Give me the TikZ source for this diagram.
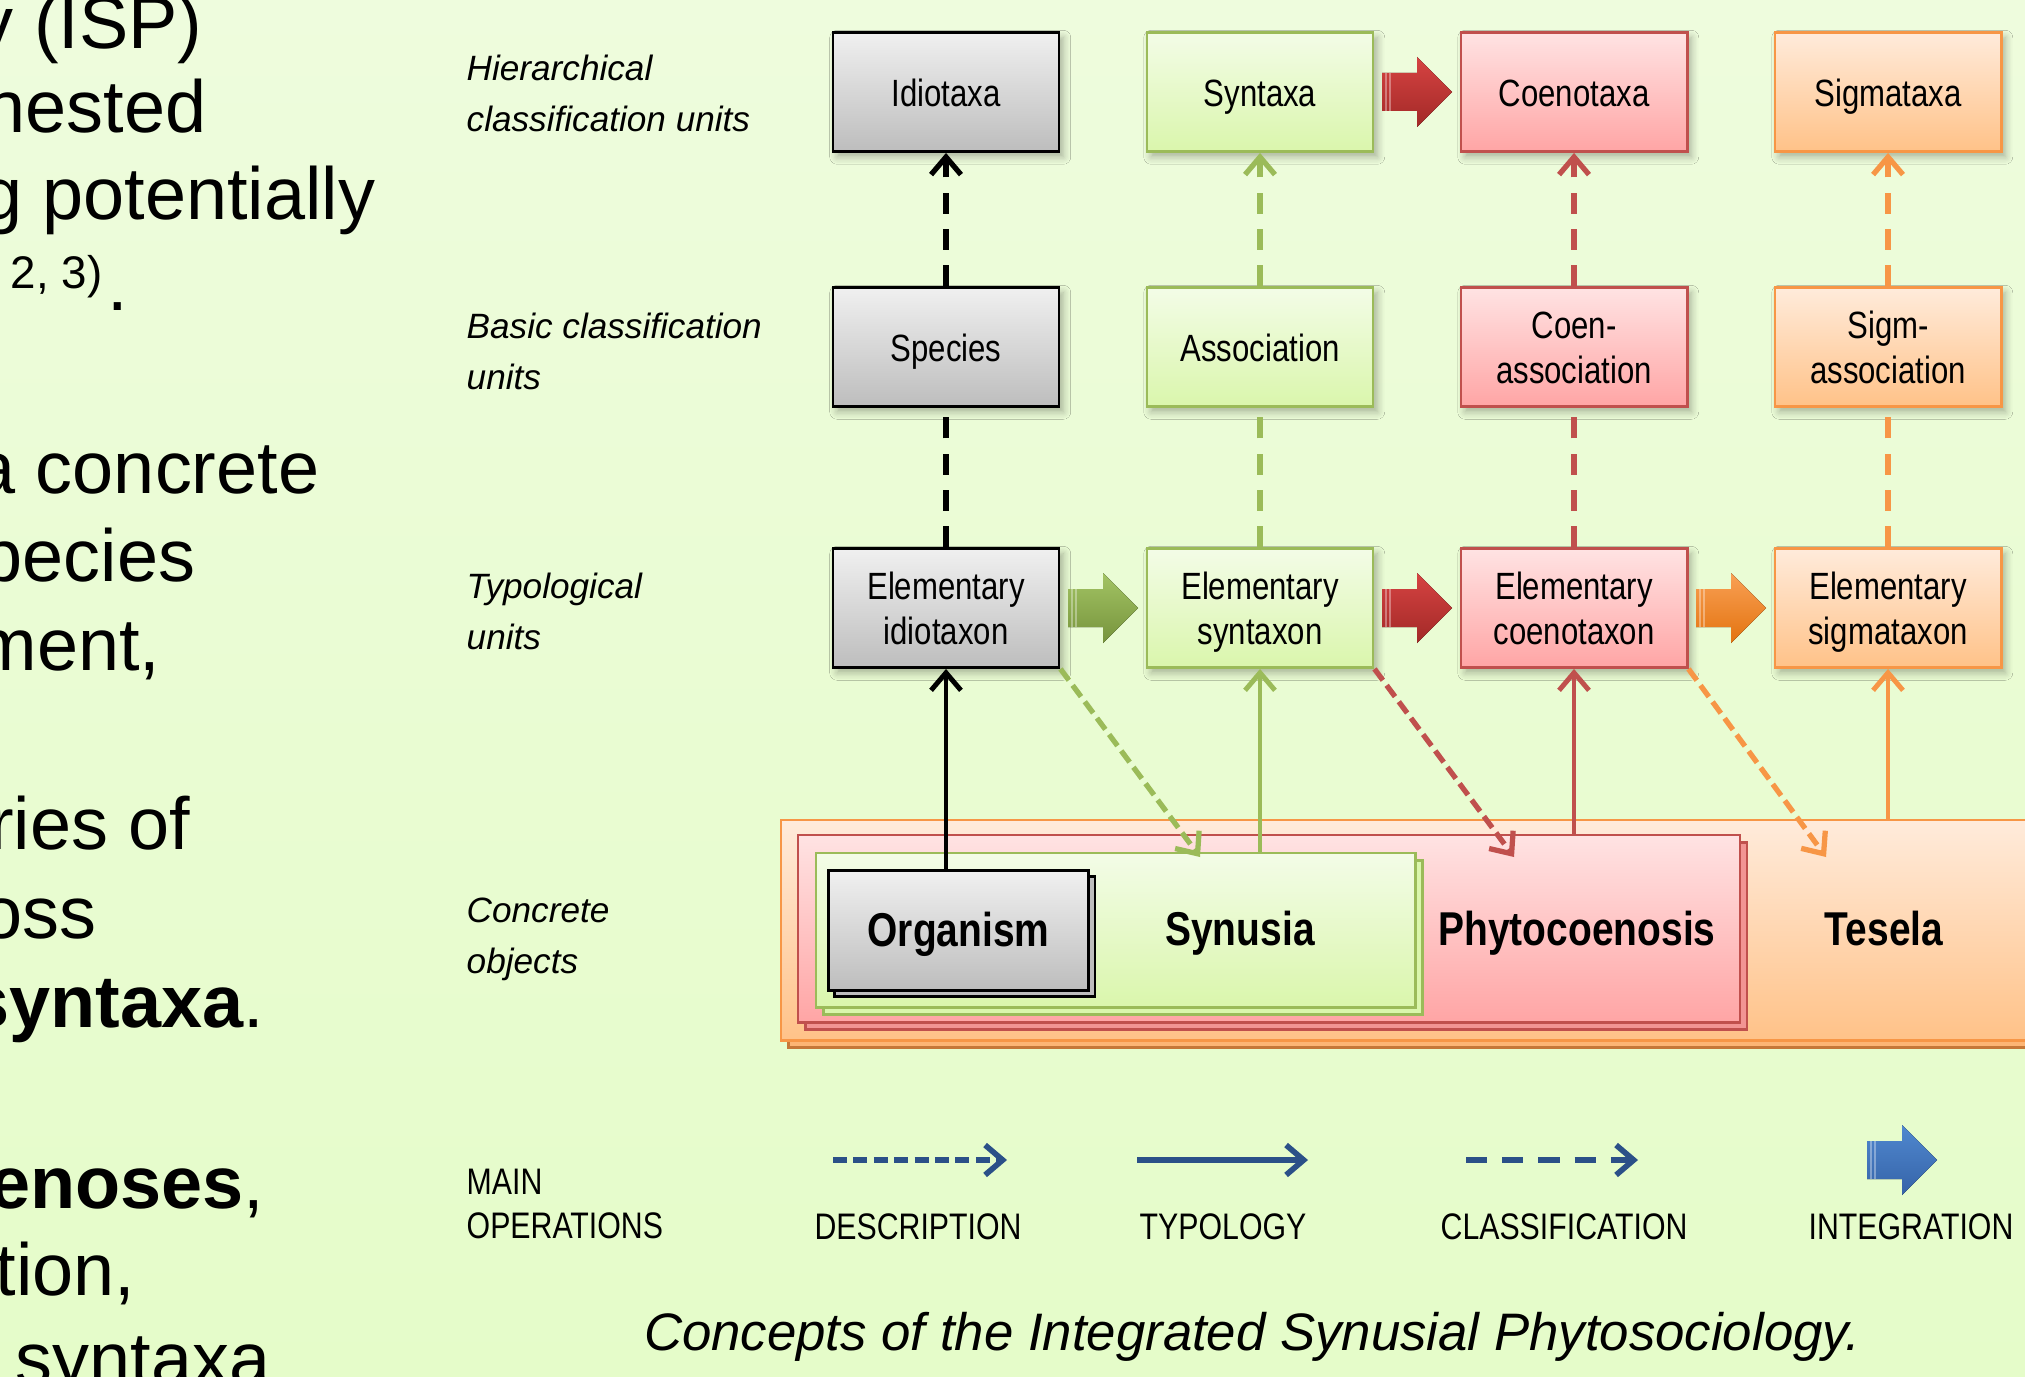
\documentclass[tikz,border=0pt]{standalone}
\usepackage{fontspec}
\setmainfont{Liberation Sans}
\newfontfamily\narrowfont[FakeStretch=0.82]{Liberation Sans}
\usetikzlibrary{calc, arrows.meta, shadows, shadows.blur}

\definecolor{bgtop}{HTML}{EEFCDD}
\definecolor{bgbottom}{HTML}{E5FCC9}
\definecolor{greyA}{HTML}{F0F0F0}
\definecolor{greyB}{HTML}{BDBDBD}
\definecolor{greenA}{HTML}{F3FCE7}
\definecolor{greenB}{HTML}{DAF6AC}
\definecolor{greenline}{HTML}{9BBB59}
\definecolor{redA}{HTML}{FFE3E3}
\definecolor{redB}{HTML}{FFA5A5}
\definecolor{redline}{HTML}{C0504D}
\definecolor{orangeA}{HTML}{FFEBDB}
\definecolor{orangeB}{HTML}{FFC288}
\definecolor{orangeline}{HTML}{F79646}
\definecolor{blueline}{HTML}{2B5088}
\definecolor{greenarrA}{HTML}{A3C464}
\definecolor{greenarrB}{HTML}{76933C}
\definecolor{redarrA}{HTML}{D64342}
\definecolor{redarrB}{HTML}{A22927}
\definecolor{orangearrA}{HTML}{F9A055}
\definecolor{orangearrB}{HTML}{E3730F}
\definecolor{bluearrA}{HTML}{5088CF}
\definecolor{bluearrB}{HTML}{3563A8}

% striped block arrow (integration), centred at #1
\newcommand{\intarrow}[3]{%
  \begin{scope}[shift={(#1)}]
    \fill[top color=#2, bottom color=#3]
      (-35,-19) -- (0,-19) -- (0,-35) -- (35,0) -- (0,35) -- (0,19) -- (-35,19) -- cycle;
    \draw[white, opacity=0.35, line width=0.6pt] (-31,-19) -- (-31,19) (-27,-19) -- (-27,19);
  \end{scope}}

\tikzset{
  >={Straight Barb[length=5pt,width=8.5pt]},
  unit/.style={draw, line width=0.8pt, minimum width=2.26cm, minimum height=1.19cm,
    inner sep=1pt, align=center, font=\narrowfont\fontsize{10.8}{12.8}\selectfont,
    text height=11pt, text depth=2.5pt,
    blur shadow={shadow xshift=1.2pt, shadow yshift=-1.5pt, shadow blur steps=6, shadow opacity=30}},
  twoline/.style={text height=21pt, text depth=0pt},
  greyunit/.style={unit, draw=black, top color=greyA, bottom color=greyB},
  greenunit/.style={unit, draw=greenline, top color=greenA, bottom color=greenB},
  redunit/.style={unit, draw=redline, top color=redA, bottom color=redB},
  orangeunit/.style={unit, draw=orangeline, top color=orangeA, bottom color=orangeB},
  frame/.style={draw, line width=0.7pt, anchor=north west, inner sep=0pt},
  objname/.style={inner sep=0pt, text height=11pt, text depth=2pt,
    font=\narrowfont\bfseries\fontsize{13.5}{16}\selectfont},
  rowlabel/.style={anchor=north west, inner sep=0pt, align=left, font=\itshape\fontsize{10}{14.7}\selectfont},
  slidetext/.style={anchor=base east, inner sep=0pt, font=\fontsize{21}{25}\selectfont},
  legend/.style={inner sep=0pt, font=\narrowfont\fontsize{10.5}{12.5}\selectfont},
  cls/.style={line width=1.5pt, dash pattern=on 6pt off 4.3pt},
  dsc/.style={line width=1.5pt, dash pattern=on 4pt off 1.8pt, ->},
  typ/.style={line width=1.4pt, ->}
}

\begin{document}
\begin{tikzpicture}[x=0.01cm, y=-0.01cm]
\shade[top color=bgtop, bottom color=bgbottom] (0,0) rectangle (2025,1376);
\useasboundingbox (0,0) rectangle (2025,1376);

% slide text cut at the left edge
\begin{scope}
\clip (0,0) rectangle (2025,1376);
\node[slidetext] (t1) at (203,49) {y (ISP)};
\node[slidetext] (t2) at (207,133) {nested};
\node[slidetext] (t3) at (376,219) {g potentially};
\node[slidetext, font=\fontsize{13}{15}\selectfont] (t4) at (103,288) {2, 3)};
\node[slidetext, anchor=base west] (t5) at (107,310) {.};
\node[slidetext] (t6) at (320,493) {a concrete};
\node[slidetext] (t7) at (196,581) {pecies};
\node[slidetext] (t8) at (161,670) {ment,};
\node[slidetext] (t9) at (191,849) {ries of};
\node[slidetext] (t10) at (97,938) {oss};
\node[slidetext] (t11) at (265,1027) {\textbf{syntaxa}.};
\node[slidetext] (t12) at (265,1208) {\textbf{enoses},};
\node[slidetext] (t13) at (136,1295) {tion,};
\node[slidetext] (t14) at (271,1384) {syntaxa};
\end{scope}

% row labels
\node[rowlabel] (lhier) at (466,54) {Hierarchical\\classification units};
\node[rowlabel] (lbasic) at (466,312) {Basic classification\\units};
\node[rowlabel] (ltypo) at (466,572) {Typological\\units};
\node[rowlabel] (lconc) at (466,897) {Concrete\\objects};

% concrete objects
\node[frame, draw=orangeline, top color=orangeA, bottom color=orangeB,
  general shadow={shadow xshift=2pt, shadow yshift=-2pt, fill=orangeB!70!orangeline, draw=orangeline!80!black},
  minimum width=12.8cm, minimum height=2.2cm] (tes) at (780,819) {};
\node[frame, draw=redline, top color=redA, bottom color=redB,
  general shadow={shadow xshift=2pt, shadow yshift=-2pt, fill=redB!80!redline, draw=redline},
  minimum width=9.41cm, minimum height=1.87cm] (phy) at (797,834) {};
\node[frame, draw=greenline, top color=greenA, bottom color=greenB,
  general shadow={shadow xshift=2pt, shadow yshift=-2pt, fill=greenB, draw=greenline},
  minimum width=5.99cm, minimum height=1.54cm] (syu) at (815,852) {};
\node[frame, draw=black, line width=0.8pt, top color=greyA, bottom color=greyB,
  general shadow={shadow xshift=1.8pt, shadow yshift=-1.8pt, fill=greyB, draw=black},
  minimum width=2.6cm, minimum height=1.2cm, objname] (org) at (827,869) {Organism};
\node[objname] (lsyu) at (1240,930) {Synusia};
\node[objname] (lphy) at (1577,930) {Phytocoenosis};
\node[objname] (ltes) at (1884,930) {Tesela};

% units
\node[greyunit] (idt) at (946,92) {Idiotaxa};
\node[greenunit] (syn) at (1260,92) {Syntaxa};
\node[redunit] (coe) at (1574,92) {Coenotaxa};
\node[orangeunit] (sig) at (1888,92) {Sigmataxa};
\node[greyunit] (spe) at (946,347) {Species};
\node[greenunit] (ass) at (1260,347) {Association};
\node[redunit, twoline] (cas) at (1574,347) {Coen-\\association};
\node[orangeunit, twoline] (sas) at (1888,347) {Sigm-\\association};
\node[greyunit, twoline] (eid) at (946,608) {Elementary\\idiotaxon};
\node[greenunit, twoline] (esy) at (1260,608) {Elementary\\syntaxon};
\node[redunit, twoline] (eco) at (1574,608) {Elementary\\coenotaxon};
\node[orangeunit, twoline] (esi) at (1888,608) {Elementary\\sigmataxon};

% classification
\draw[cls] (eid) -- (spe);
\draw[cls, ->] (spe) -- (idt);
\draw[cls, greenline] (esy) -- (ass);
\draw[cls, greenline, ->] (ass) -- (syn);
\draw[cls, redline] (eco) -- (cas);
\draw[cls, redline, ->] (cas) -- (coe);
\draw[cls, orangeline] (esi) -- (sas);
\draw[cls, orangeline, ->] (sas) -- (sig);

% typology
\draw[typ] (org.north -| eid.south) -- (eid.south);
\draw[typ, greenline] (syu.north -| esy.south) -- (esy.south);
\draw[typ, redline] (phy.north -| eco.south) -- (eco.south);
\draw[typ, orangeline] (tes.north -| esi.south) -- (esi.south);

% description
\coordinate (d1) at (1200,857);
\coordinate (d2) at (1514,857);
\coordinate (d3) at (1826,857);
\draw[dsc, greenline] (eid.south east) -- (d1);
\draw[dsc, redline] (esy.south east) -- (d2);
\draw[dsc, orangeline] (eco.south east) -- (d3);

% integration
\coordinate (i1) at ($(syn.east)!0.5!(coe.west)$);
\coordinate (i2) at ($(eid.east)!0.5!(esy.west)$);
\coordinate (i3) at ($(esy.east)!0.5!(eco.west)$);
\coordinate (i4) at ($(eco.east)!0.5!(esi.west)$);
\intarrow{i1}{redarrA}{redarrB}
\intarrow{i2}{greenarrA}{greenarrB}
\intarrow{i3}{redarrA}{redarrB}
\intarrow{i4}{orangearrA}{orangearrB}

% main operations
\node[legend, anchor=north west, align=left] (ops) at (466,1168) {MAIN\\OPERATIONS};
\node[legend, anchor=base] (ldsc) at (918,1239) {DESCRIPTION};
\node[legend, anchor=base] (ltyp) at (1223,1239) {TYPOLOGY};
\node[legend, anchor=base] (lcls) at (1564,1239) {CLASSIFICATION};
\node[legend, anchor=base] (lint) at (1911,1239) {INTEGRATION};
\coordinate (dsc-a) at (833,1160);
\coordinate (dsc-b) at (1007,1160);
\coordinate (typ-a) at (1137,1160);
\coordinate (typ-b) at (1308,1160);
\coordinate (cls-a) at (1466,1160);
\coordinate (cls-b) at (1638,1160);
\coordinate (int-c) at (1902,1160);
\draw[dsc, blueline, line width=1.6pt] (dsc-a) -- (dsc-b);
\draw[typ, blueline, line width=1.6pt] (typ-a) -- (typ-b);
\draw[cls, blueline, line width=1.6pt, ->] (cls-a) -- (cls-b);
\intarrow{int-c}{bluearrA}{bluearrB}

\node[anchor=base, inner sep=0pt, font=\itshape\fontsize{15}{18}\selectfont] (caption)
  at (1252,1350) {Concepts of the Integrated Synusial Phytosociology.};
\end{tikzpicture}
\end{document}
